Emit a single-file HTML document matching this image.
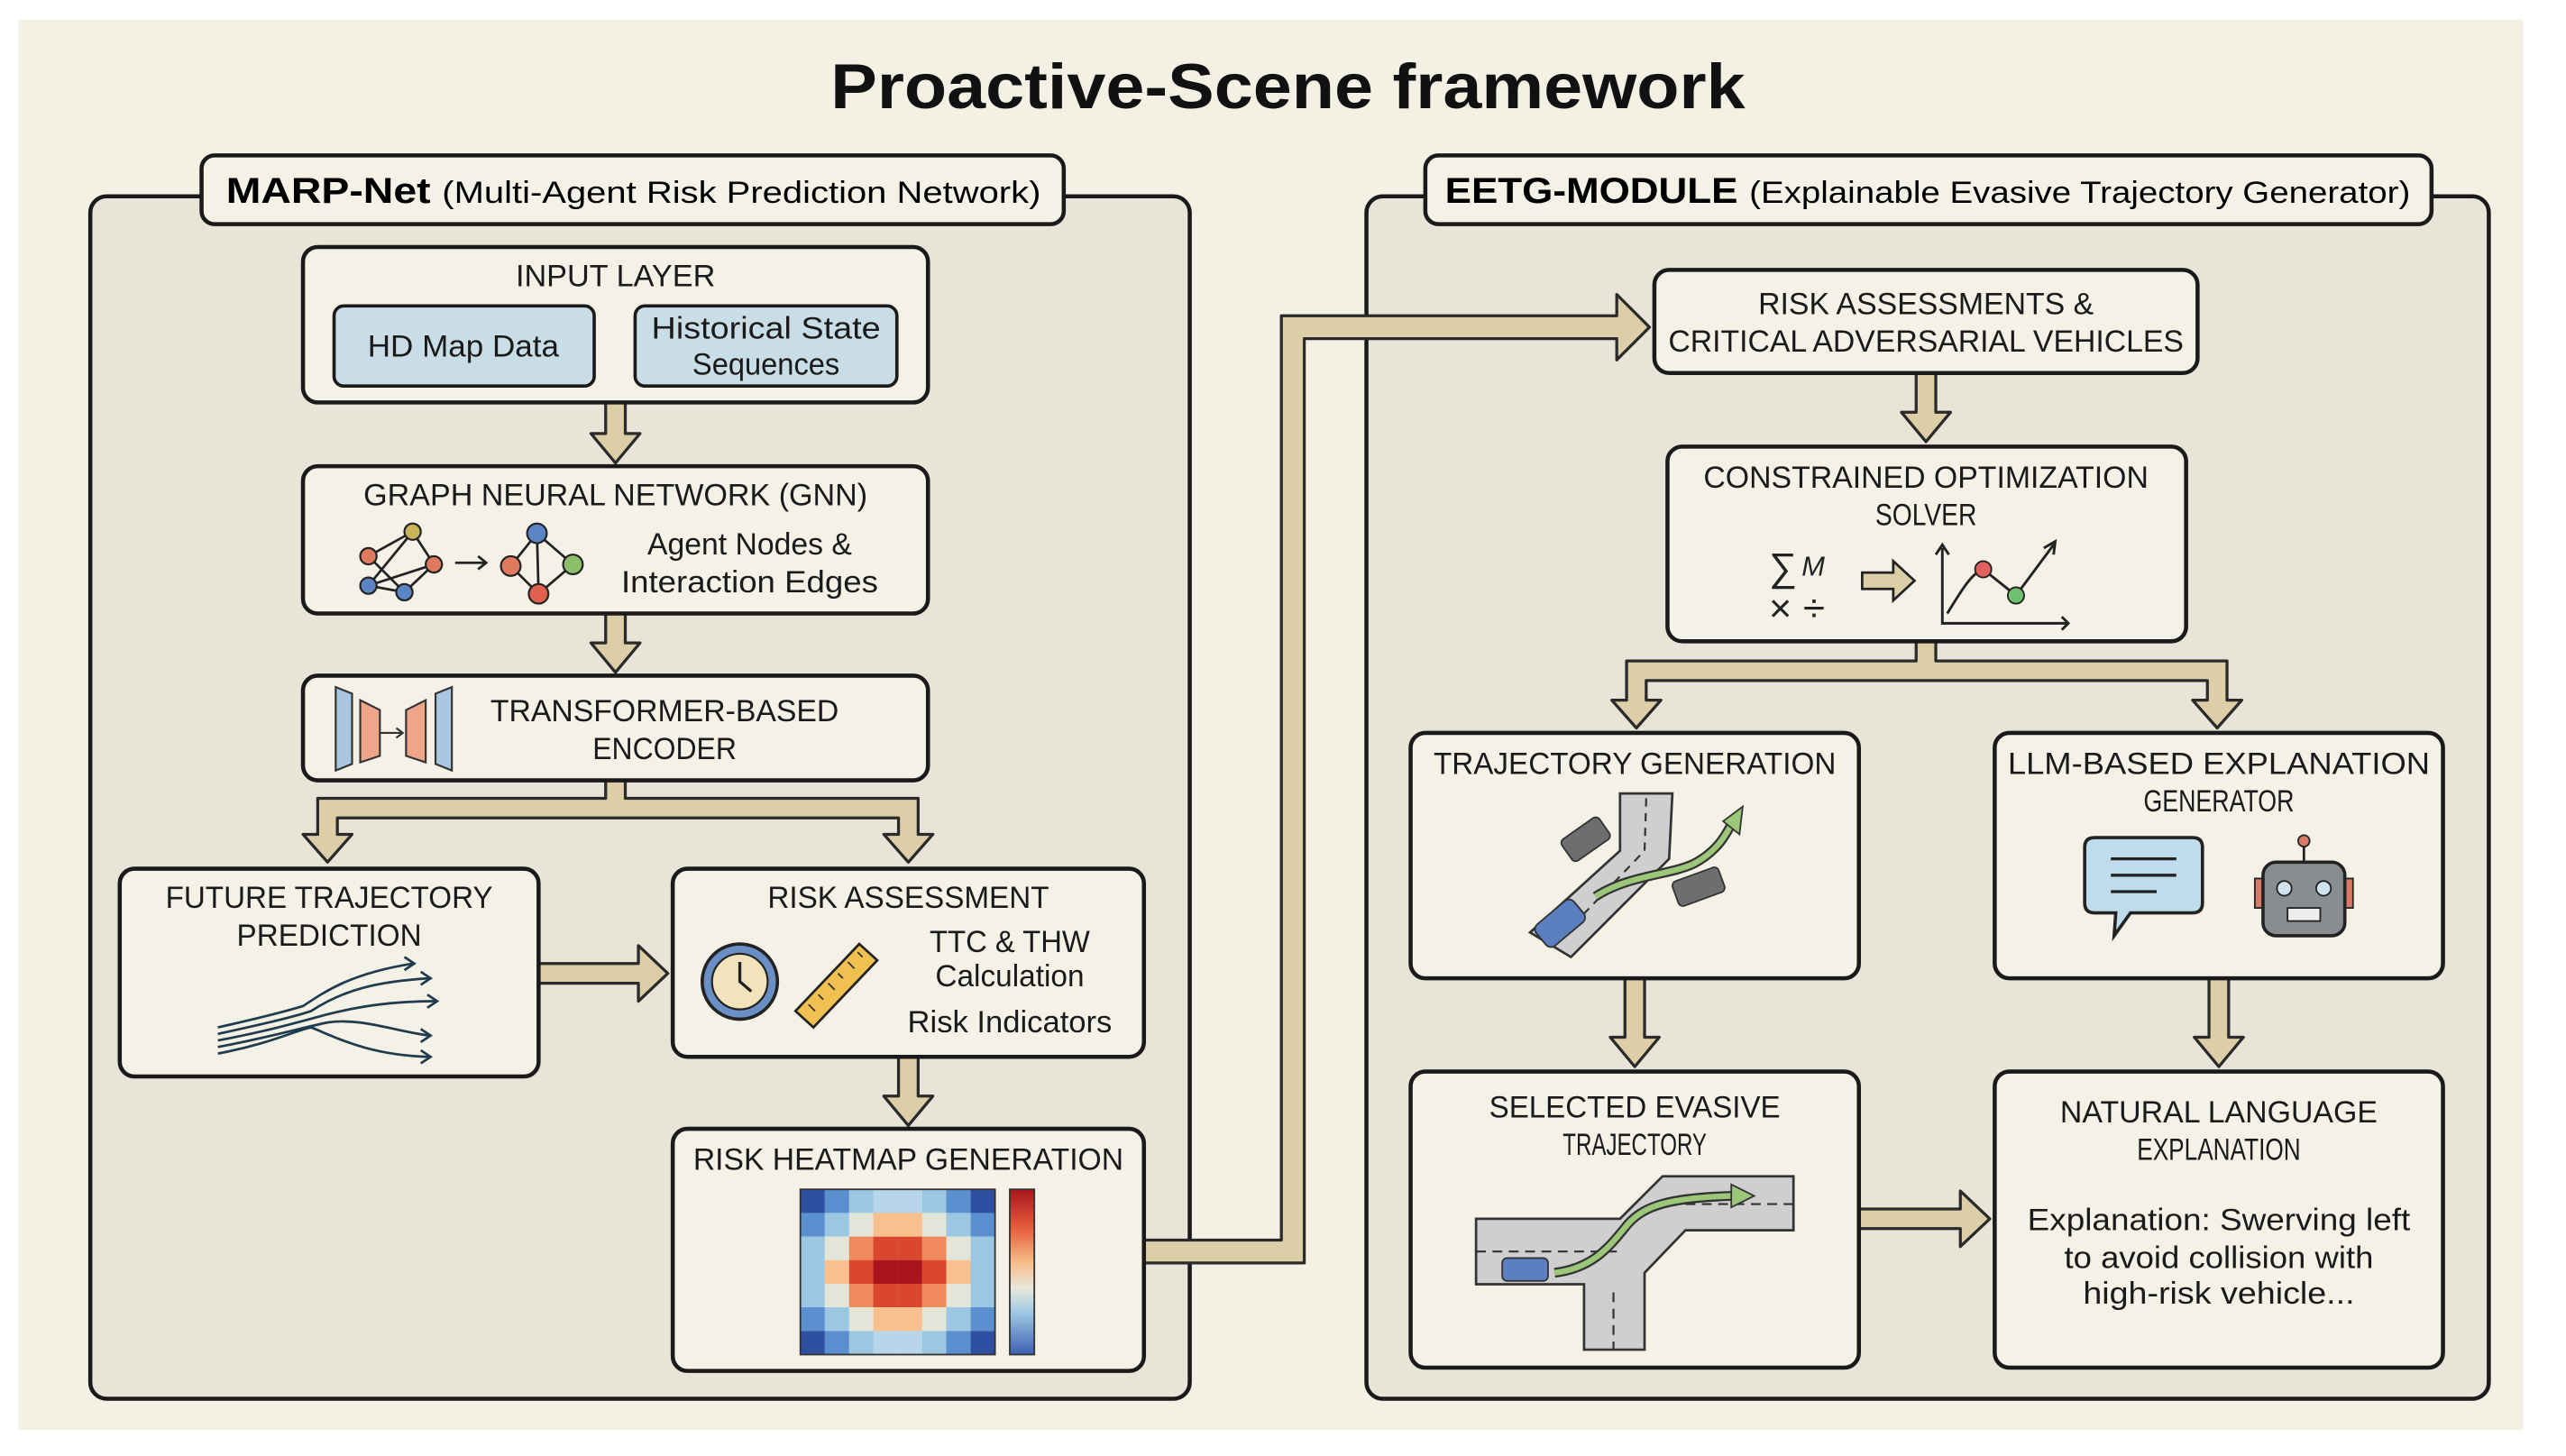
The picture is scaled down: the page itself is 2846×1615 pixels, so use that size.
<!DOCTYPE html>
<html><head><meta charset="utf-8"><style>html,body{margin:0;padding:0;background:#fff}svg{display:block}</style></head>
<body>
<svg width="2846" height="1615" viewBox="0 0 1568 890" xmlns="http://www.w3.org/2000/svg" font-family="'Liberation Sans', sans-serif">
<defs>
<linearGradient id="cb" x1="0" y1="0" x2="0" y2="1">
<stop offset="0" stop-color="#a8151c"/><stop offset="0.25" stop-color="#e8643f"/><stop offset="0.45" stop-color="#f7c08d"/><stop offset="0.6" stop-color="#e6e8dc"/><stop offset="0.75" stop-color="#9cc7e3"/><stop offset="1" stop-color="#3a5fb0"/>
</linearGradient>
</defs>
<rect x="0" y="0" width="1568" height="890" fill="#ffffff"/>
<rect x="11" y="12" width="1531" height="862" fill="#f3f0e4"/>
<text x="787" y="66" text-anchor="middle" font-size="39" font-weight="bold" fill="#111" textLength="559" lengthAdjust="spacingAndGlyphs">Proactive-Scene framework</text>

<g stroke="#1a1a1a" stroke-width="2.5">
<rect x="55" y="120" width="672" height="735" rx="10" fill="#e8e4d7"/>
<rect x="835" y="120" width="686" height="735" rx="10" fill="#e8e4d7"/>
<rect x="123" y="95" width="527" height="42" rx="8" fill="#f4f1e6"/>
<rect x="871" y="95" width="615" height="42" rx="8" fill="#f4f1e6"/>
</g>
<text x="138" y="124" font-size="22" font-weight="bold" textLength="125" lengthAdjust="spacingAndGlyphs">MARP-Net</text>
<text x="270" y="124" font-size="19" textLength="366" lengthAdjust="spacingAndGlyphs">(Multi-Agent Risk Prediction Network)</text>
<text x="883" y="124" font-size="22" font-weight="bold" textLength="179" lengthAdjust="spacingAndGlyphs">EETG-MODULE</text>
<text x="1069" y="124" font-size="19" textLength="404" lengthAdjust="spacingAndGlyphs">(Explainable Evasive Trajectory Generator)</text>

<g fill="#dccfa8" stroke="#2a2a2a" stroke-width="1.8" stroke-linejoin="round">
<polygon points="370,246 382,246 382,265 391,265 376,283 361,265 370,265"/>
<polygon points="370,375 382,375 382,393 391,393 376,411 361,393 370,393"/>
<polygon points="549,646 561,646 561,670 570,670 555,688 540,670 549,670"/>
<polygon points="993,598 1005,598 1005,634 1014,634 999,652 984,634 993,634"/>
<polygon points="1350,598 1362,598 1362,634 1371,634 1356,652 1341,634 1350,634"/>
<polygon points="1171,228 1183,228 1183,252 1192,252 1177,270 1162,252 1171,252"/>
<polygon points="329,589 390,589 390,578 408,595 390,612 390,601 329,601"/>
<polygon points="1136,739 1198,739 1198,728 1216,745 1198,762 1198,751 1136,751"/>
<polygon points="370,477 382,477 382,488 561,488 561,510 570,510 555,527 540,510 549,510 549,500 206,500 206,510 215,510 200,527 185,510 194,510 194,488 370,488"/>
<polygon points="1171,392 1183,392 1183,404 1361,404 1361,428 1370,428 1355,445 1340,428 1349,428 1349,416 1006,416 1006,428 1015,428 1000,445 985,428 994,428 994,404 1171,404"/>
<polygon points="699,758 783,758 783,193 988,193 988,180 1008,200 988,220 988,207 797,207 797,772 699,772"/>
</g>

<g stroke="#1a1a1a" stroke-width="2.5" fill="#f4f1e6">
<rect x="185" y="151" width="382" height="95" rx="9"/>
<rect x="185" y="285" width="382" height="90" rx="9"/>
<rect x="185" y="413" width="382" height="64" rx="9"/>
<rect x="73" y="531" width="256" height="127" rx="9"/>
<rect x="411" y="531" width="288" height="115" rx="9"/>
<rect x="411" y="690" width="288" height="148" rx="9"/>
<rect x="1011" y="165" width="332" height="63" rx="9"/>
<rect x="1019" y="273" width="317" height="119" rx="9"/>
<rect x="862" y="448" width="274" height="150" rx="9"/>
<rect x="1219" y="448" width="274" height="150" rx="9"/>
<rect x="862" y="655" width="274" height="181" rx="9"/>
<rect x="1219" y="655" width="274" height="181" rx="9"/>
</g>
<g stroke="#1a1a1a" stroke-width="2" fill="#c9dde6">
<rect x="204" y="187" width="159" height="49" rx="6"/>
<rect x="388" y="187" width="160" height="49" rx="6"/>
</g>

<g font-size="19" fill="#1a1a1a" text-anchor="middle">
<text x="376" y="175" textLength="122" lengthAdjust="spacingAndGlyphs">INPUT LAYER</text>
<text x="283" y="218" textLength="117" lengthAdjust="spacingAndGlyphs">HD Map Data</text>
<text x="468" y="207" textLength="140" lengthAdjust="spacingAndGlyphs">Historical State</text>
<text x="468" y="229" textLength="90" lengthAdjust="spacingAndGlyphs">Sequences</text>
<text x="376" y="309" textLength="308" lengthAdjust="spacingAndGlyphs">GRAPH NEURAL NETWORK (GNN)</text>
<text x="458" y="339" textLength="125" lengthAdjust="spacingAndGlyphs">Agent Nodes &amp;</text>
<text x="458" y="362" textLength="157" lengthAdjust="spacingAndGlyphs">Interaction Edges</text>
<text x="406" y="441" textLength="213" lengthAdjust="spacingAndGlyphs">TRANSFORMER-BASED</text>
<text x="406" y="464" textLength="88" lengthAdjust="spacingAndGlyphs">ENCODER</text>
<text x="201" y="555" textLength="200" lengthAdjust="spacingAndGlyphs">FUTURE TRAJECTORY</text>
<text x="201" y="578" textLength="113" lengthAdjust="spacingAndGlyphs">PREDICTION</text>
<text x="555" y="555" textLength="172" lengthAdjust="spacingAndGlyphs">RISK ASSESSMENT</text>
<text x="617" y="582" textLength="98" lengthAdjust="spacingAndGlyphs">TTC &amp; THW</text>
<text x="617" y="603" textLength="91" lengthAdjust="spacingAndGlyphs">Calculation</text>
<text x="617" y="631" textLength="125" lengthAdjust="spacingAndGlyphs">Risk Indicators</text>
<text x="555" y="715" textLength="263" lengthAdjust="spacingAndGlyphs">RISK HEATMAP GENERATION</text>
<text x="1177" y="192" textLength="205" lengthAdjust="spacingAndGlyphs">RISK ASSESSMENTS &amp;</text>
<text x="1177" y="215" textLength="315" lengthAdjust="spacingAndGlyphs">CRITICAL ADVERSARIAL VEHICLES</text>
<text x="1177" y="298" textLength="272" lengthAdjust="spacingAndGlyphs">CONSTRAINED OPTIMIZATION</text>
<text x="1177" y="321" textLength="62" lengthAdjust="spacingAndGlyphs">SOLVER</text>
<text x="999" y="473" textLength="246" lengthAdjust="spacingAndGlyphs">TRAJECTORY GENERATION</text>
<text x="1356" y="473" textLength="258" lengthAdjust="spacingAndGlyphs">LLM-BASED EXPLANATION</text>
<text x="1356" y="496" textLength="92" lengthAdjust="spacingAndGlyphs">GENERATOR</text>
<text x="999" y="683" textLength="178" lengthAdjust="spacingAndGlyphs">SELECTED EVASIVE</text>
<text x="999" y="706" textLength="88" lengthAdjust="spacingAndGlyphs">TRAJECTORY</text>
<text x="1356" y="686" textLength="194" lengthAdjust="spacingAndGlyphs">NATURAL LANGUAGE</text>
<text x="1356" y="709" textLength="100" lengthAdjust="spacingAndGlyphs">EXPLANATION</text>
<text x="1356" y="752" textLength="234" lengthAdjust="spacingAndGlyphs">Explanation: Swerving left</text>
<text x="1356" y="775" textLength="189" lengthAdjust="spacingAndGlyphs">to avoid collision with</text>
<text x="1356" y="797" textLength="166" lengthAdjust="spacingAndGlyphs">high-risk vehicle...</text>
</g>

<g stroke="#222" stroke-width="1.5" fill="none">
<path d="M225,340 L252,325 L265,345 L247,362 L225,358 L252,325 M225,340 L247,362 M225,358 L265,345"/>
<path d="M278,344 L296,344 M292,340 L297,344 L292,348"/>
<path d="M328,326 L312,346 L329,363 L350,345 Z M328,326 L329,363"/>
</g>
<g stroke="#222" stroke-width="1.2">
<circle cx="225" cy="340" r="5" fill="#e07a5f"/><circle cx="252" cy="325" r="5" fill="#c9b45a"/><circle cx="265" cy="345" r="5" fill="#e07a5f"/><circle cx="247" cy="362" r="5" fill="#5b84c4"/><circle cx="225" cy="358" r="5" fill="#5b84c4"/>
<circle cx="328" cy="326" r="6" fill="#5b84c4"/><circle cx="312" cy="346" r="6" fill="#e07a5f"/><circle cx="329" cy="363" r="6" fill="#e0604f"/><circle cx="350" cy="345" r="6" fill="#8cbf6a"/>
</g>
<g stroke="#333" stroke-width="1.2">
<polygon points="205,420 215,424 215,467 205,471" fill="#a9c7e0"/>
<polygon points="220,428 232,434 232,462 220,466" fill="#eea58a"/>
<polygon points="248,434 260,428 260,466 248,462" fill="#eea58a"/>
<polygon points="266,424 276,420 276,471 266,467" fill="#a9c7e0"/>
<path d="M232,448 L246,448 M242,445 L246,448 L242,451" fill="none"/>
</g>
<g stroke="#1f3b4d" stroke-width="1.5" fill="none">
<path d="M133,628 C160,622 175,618 185,615 C200,605 215,595 252,589"/>
<path d="M133,632 C160,626 178,622 190,618 C210,605 230,600 262,598"/>
<path d="M133,636 C165,630 185,624 200,620 C220,615 240,612 266,612"/>
<path d="M133,640 C165,634 185,628 200,625 C220,622 240,630 262,633"/>
<path d="M133,644 C165,638 180,630 190,628 C205,634 225,645 262,646"/>
<path d="M247,585 L253,589 L247,593 M257,594 L263,598 L257,602 M261,608 L267,612 L261,616 M257,629 L263,633 L257,637 M257,642 L263,646 L257,650"/>
</g>
<circle cx="452" cy="600" r="23" fill="#6a8fc4" stroke="#222" stroke-width="2"/>
<circle cx="452" cy="600" r="17" fill="#f3e3bd" stroke="#222" stroke-width="1.2"/>
<path d="M452,588 L452,600 L459,606" stroke="#222" stroke-width="1.8" fill="none"/>
<polygon points="486,618 525,577 536,587 497,628" fill="#f0c050" stroke="#222" stroke-width="1.5"/>
<path d="M494,614 l4,4 M500,608 l3,3 M506,601 l4,4 M512,595 l3,3 M518,588 l4,4 M524,582 l3,3" stroke="#333" stroke-width="1"/>
<g>
<rect x="489.0" y="727.0" width="15" height="14.5" fill="#2f4fa0"/><rect x="503.9" y="727.0" width="15" height="14.5" fill="#5a8fd0"/><rect x="518.8" y="727.0" width="15" height="14.5" fill="#9cc7e3"/><rect x="533.6" y="727.0" width="15" height="14.5" fill="#b7d6ea"/><rect x="548.5" y="727.0" width="15" height="14.5" fill="#b7d6ea"/><rect x="563.4" y="727.0" width="15" height="14.5" fill="#9cc7e3"/><rect x="578.2" y="727.0" width="15" height="14.5" fill="#5a8fd0"/><rect x="593.1" y="727.0" width="15" height="14.5" fill="#2f4fa0"/>
<rect x="489.0" y="741.4" width="15" height="14.5" fill="#5a8fd0"/><rect x="503.9" y="741.4" width="15" height="14.5" fill="#9cc7e3"/><rect x="518.8" y="741.4" width="15" height="14.5" fill="#e2e6d8"/><rect x="533.6" y="741.4" width="15" height="14.5" fill="#f7c08d"/><rect x="548.5" y="741.4" width="15" height="14.5" fill="#f7c08d"/><rect x="563.4" y="741.4" width="15" height="14.5" fill="#e2e6d8"/><rect x="578.2" y="741.4" width="15" height="14.5" fill="#9cc7e3"/><rect x="593.1" y="741.4" width="15" height="14.5" fill="#5a8fd0"/>
<rect x="489.0" y="755.9" width="15" height="14.5" fill="#9cc7e3"/><rect x="503.9" y="755.9" width="15" height="14.5" fill="#e2e6d8"/><rect x="518.8" y="755.9" width="15" height="14.5" fill="#ef8a5c"/><rect x="533.6" y="755.9" width="15" height="14.5" fill="#d9472f"/><rect x="548.5" y="755.9" width="15" height="14.5" fill="#d9472f"/><rect x="563.4" y="755.9" width="15" height="14.5" fill="#ef8a5c"/><rect x="578.2" y="755.9" width="15" height="14.5" fill="#e2e6d8"/><rect x="593.1" y="755.9" width="15" height="14.5" fill="#9cc7e3"/>
<rect x="489.0" y="770.3" width="15" height="14.5" fill="#9cc7e3"/><rect x="503.9" y="770.3" width="15" height="14.5" fill="#f7c08d"/><rect x="518.8" y="770.3" width="15" height="14.5" fill="#d9472f"/><rect x="533.6" y="770.3" width="15" height="14.5" fill="#a8151c"/><rect x="548.5" y="770.3" width="15" height="14.5" fill="#a8151c"/><rect x="563.4" y="770.3" width="15" height="14.5" fill="#d9472f"/><rect x="578.2" y="770.3" width="15" height="14.5" fill="#f7c08d"/><rect x="593.1" y="770.3" width="15" height="14.5" fill="#9cc7e3"/>
<rect x="489.0" y="784.7" width="15" height="14.5" fill="#9cc7e3"/><rect x="503.9" y="784.7" width="15" height="14.5" fill="#e2e6d8"/><rect x="518.8" y="784.7" width="15" height="14.5" fill="#ef8a5c"/><rect x="533.6" y="784.7" width="15" height="14.5" fill="#d9472f"/><rect x="548.5" y="784.7" width="15" height="14.5" fill="#d9472f"/><rect x="563.4" y="784.7" width="15" height="14.5" fill="#ef8a5c"/><rect x="578.2" y="784.7" width="15" height="14.5" fill="#e2e6d8"/><rect x="593.1" y="784.7" width="15" height="14.5" fill="#9cc7e3"/>
<rect x="489.0" y="799.1" width="15" height="14.5" fill="#5a8fd0"/><rect x="503.9" y="799.1" width="15" height="14.5" fill="#9cc7e3"/><rect x="518.8" y="799.1" width="15" height="14.5" fill="#e2e6d8"/><rect x="533.6" y="799.1" width="15" height="14.5" fill="#f7c08d"/><rect x="548.5" y="799.1" width="15" height="14.5" fill="#f7c08d"/><rect x="563.4" y="799.1" width="15" height="14.5" fill="#e2e6d8"/><rect x="578.2" y="799.1" width="15" height="14.5" fill="#9cc7e3"/><rect x="593.1" y="799.1" width="15" height="14.5" fill="#5a8fd0"/>
<rect x="489.0" y="813.6" width="15" height="14.4" fill="#2f4fa0"/><rect x="503.9" y="813.6" width="15" height="14.4" fill="#5a8fd0"/><rect x="518.8" y="813.6" width="15" height="14.4" fill="#9cc7e3"/><rect x="533.6" y="813.6" width="15" height="14.4" fill="#b7d6ea"/><rect x="548.5" y="813.6" width="15" height="14.4" fill="#b7d6ea"/><rect x="563.4" y="813.6" width="15" height="14.4" fill="#9cc7e3"/><rect x="578.2" y="813.6" width="15" height="14.4" fill="#5a8fd0"/><rect x="593.1" y="813.6" width="15" height="14.4" fill="#2f4fa0"/>
</g>
<rect x="489" y="727" width="119" height="101" fill="none" stroke="#333" stroke-width="1"/>
<rect x="617" y="727" width="15" height="101" fill="url(#cb)" stroke="#333" stroke-width="1"/>

<g font-size="24" fill="#222">
<text x="1081" y="355">∑</text><text x="1101" y="352" font-size="17" font-style="italic">M</text>
<text x="1081" y="380">×</text><text x="1102" y="380">÷</text>
</g>
<polygon points="1138,350 1157,350 1157,343 1170,355 1157,367 1157,360 1138,360" fill="#dccfa8" stroke="#222" stroke-width="1.5"/>
<g stroke="#222" stroke-width="1.6" fill="none">
<path d="M1187,335 L1187,381 L1264,381 M1260,377 L1264,381 L1260,385 M1183,339 L1187,333 L1191,339"/>
<path d="M1190,375 C1198,362 1205,350 1212,348 L1232,364 L1255,333 M1249,335 L1256,331 L1255,339"/>
</g>
<circle cx="1212" cy="348" r="5" fill="#e06060" stroke="#222" stroke-width="1"/>
<circle cx="1232" cy="364" r="5" fill="#70c070" stroke="#222" stroke-width="1"/>

<g>
<path d="M990,485 L1022,485 L1020,525 L960,585 L935,570 L990,520 Z" fill="#cfcfcf" stroke="#333" stroke-width="1.5"/>
<path d="M1006,488 L1005,520 L955,572" stroke="#333" stroke-width="1.2" stroke-dasharray="5,4" fill="none"/>
<rect x="955" y="505" width="28" height="16" rx="3" transform="rotate(-35 969 513)" fill="#6e6e6e" stroke="#333"/>
<rect x="1023" y="534" width="30" height="16" rx="3" transform="rotate(-20 1038 542)" fill="#6e6e6e" stroke="#333"/>
<rect x="938" y="556" width="30" height="17" rx="4" transform="rotate(-40 953 564)" fill="#5b7fc0" stroke="#333"/>
<path d="M975,548 C995,535 1020,535 1035,528 C1050,520 1055,510 1060,500" stroke="#333" stroke-width="6" fill="none"/>
<path d="M975,548 C995,535 1020,535 1035,528 C1050,520 1055,510 1060,500" stroke="#9cc779" stroke-width="3.5" fill="none"/>
<polygon points="1053,502 1065,493 1063,510" fill="#9cc779" stroke="#333"/>
</g>
<path d="M1280,512 L1340,512 Q1346,512 1346,518 L1346,552 Q1346,558 1340,558 L1302,558 L1292,572 L1293,558 L1280,558 Q1274,558 1274,552 L1274,518 Q1274,512 1280,512 Z" fill="#bfdcec" stroke="#222" stroke-width="2"/>
<path d="M1290,525 L1330,525 M1290,535 L1330,535 M1290,545 L1318,545" stroke="#222" stroke-width="1.8"/>
<rect x="1378" y="537" width="6" height="18" fill="#d97a65" stroke="#222"/>
<rect x="1432" y="537" width="6" height="18" fill="#d97a65" stroke="#222"/>
<rect x="1383" y="527" width="50" height="45" rx="8" fill="#8a8d90" stroke="#222" stroke-width="2"/>
<path d="M1408,527 L1408,517" stroke="#222" stroke-width="1.5"/><circle cx="1408" cy="514" r="3.5" fill="#d97a65" stroke="#222"/>
<circle cx="1396" cy="543" r="4.5" fill="#cfe3ee" stroke="#222"/><circle cx="1420" cy="543" r="4.5" fill="#cfe3ee" stroke="#222"/>
<rect x="1398" y="555" width="20" height="8" fill="#eee" stroke="#222"/>
<g>
<path d="M902,745 L990,745 L1016,719 L1096,719 L1096,752 L1030,752 L1005,778 L1005,825 L968,825 L968,785 L902,785 Z" fill="#cfcfcf" stroke="#333" stroke-width="1.5"/>
<path d="M902,765 L990,765 M1030,736 L1096,736 M986,790 L986,825" stroke="#333" stroke-width="1.2" stroke-dasharray="6,4"/>
<rect x="918" y="769" width="28" height="14" rx="3" fill="#5b7fc0" stroke="#333"/>
<path d="M950,778 C975,775 985,760 995,748 C1005,737 1020,732 1060,731" stroke="#333" stroke-width="6" fill="none"/>
<path d="M950,778 C975,775 985,760 995,748 C1005,737 1020,732 1060,731" stroke="#9cc779" stroke-width="3.5" fill="none"/>
<polygon points="1058,724 1072,731 1058,738" fill="#9cc779" stroke="#333"/>
</g>
</svg>
</body></html>
